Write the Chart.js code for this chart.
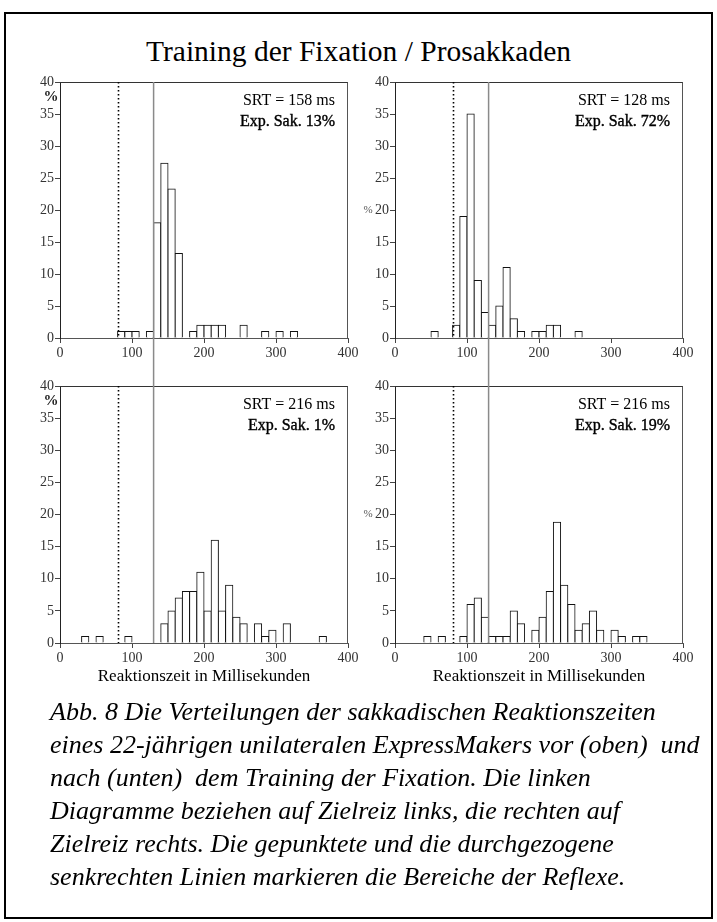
<!DOCTYPE html>
<html>
<head>
<meta charset="utf-8">
<script src="https://cdn.jsdelivr.net/npm/chart.js@4.4.1/dist/chart.umd.min.js"></script>
<style>
  html, body { margin: 0; padding: 0; background: #fff; }
  body { width: 717px; height: 922px; position: relative; overflow: hidden; font-family: "Liberation Serif", "Times New Roman", serif; }
  #frame { position: absolute; left: 4px; top: 12px; width: 709px; height: 907px; border: 2px solid #000; box-sizing: border-box; }
  #title { position: absolute; left: 0; width: 717px; top: 34px; text-align: center; font-size: 29.5px; line-height: 34px; color: #000; }
  #caption { position: absolute; left: 50px; top: 695px; width: 665px; font-size: 26px; line-height: 33px; font-style: italic; color: #000; white-space: nowrap; }
  canvas { position: absolute; }
</style>
</head>
<body>
<div id="frame"></div>
<div id="title">Training der Fixation / Prosakkaden</div>
<canvas id="tl" width="364" height="302" style="left:0px;top:60px"></canvas>
<canvas id="tr" width="367" height="302" style="left:350px;top:60px"></canvas>
<canvas id="bl" width="364" height="338" style="left:0px;top:362px"></canvas>
<canvas id="br" width="367" height="338" style="left:350px;top:362px"></canvas>
<div id="caption">Abb. 8 Die Verteilungen der sakkadischen Reaktionszeiten<br>eines 22-jährigen unilateralen ExpressMakers vor (oben)&nbsp; und<br>nach (unten)&nbsp; dem Training der Fixation. Die linken<br>Diagramme beziehen auf Zielreiz links, die rechten auf<br>Zielreiz rechts. Die gepunktete und die durchgezogene<br>senkrechten Linien markieren die Bereiche der Reflexe.</div>
<script>
// ---- data (bin start in ms, percentage) ----
const binWidth = 10;
const binStartsTL = [80, 90, 100, 120, 130, 140, 150, 160, 180, 190, 200, 210, 220, 250, 280, 300, 320];
const valuesTL    = [1, 1, 1, 1, 18, 27.3, 23.3, 13.2, 1, 2, 2, 2, 2, 2, 1, 1, 1];
const binStartsTR = [50, 80, 90, 100, 110, 120, 130, 140, 150, 160, 170, 190, 200, 210, 220, 250];
const valuesTR    = [1, 2, 19, 35, 9, 4, 2, 5, 11, 3, 1, 1, 1, 2, 2, 1];
const binStartsBL = [30, 50, 90, 140, 150, 160, 170, 180, 190, 200, 210, 220, 230, 240, 250, 270, 280, 290, 310, 360];
const valuesBL    = [1, 1, 1, 3, 5, 7, 8, 8, 11, 5, 16, 5, 9, 4, 3, 3, 1, 2, 3, 1];
const binStartsBR = [40, 60, 90, 100, 110, 120, 130, 140, 150, 160, 170, 190, 200, 210, 220, 230, 240, 250, 260, 270, 280, 300, 310, 330, 340];
const valuesBR    = [1, 1, 1, 6, 7, 4, 1, 1, 1, 5, 3, 2, 4, 8, 18.8, 9, 6, 2, 3, 5, 2, 2, 1, 1, 1];

const xTicks = [0, 100, 200, 300, 400];
const yTicks = [0, 5, 10, 15, 20, 25, 30, 35, 40];
const dottedX = 80;
const solidX = 130;
const srtLabels = ["SRT = 158 ms", "SRT = 128 ms", "SRT = 216 ms", "SRT = 216 ms"];
const expLabels = ["Exp. Sak. 13%", "Exp. Sak. 72%", "Exp. Sak. 1%", "Exp. Sak. 19%"];
const xTitle = "Reaktionszeit in Millisekunden";

const FONT = '"Liberation Serif", "Times New Roman", serif';
Chart.defaults.font.family = FONT;

function makeChart(id, starts, values, idx, cfg) {
  const panelPlugin = {
    id: 'panel' + idx,
    afterDraw(chart) {
      const ctx = chart.ctx;
      const a = chart.chartArea;
      const xs = chart.scales.x, ys = chart.scales.y;
      ctx.save();
      // frame top and right
      ctx.strokeStyle = '#333';
      ctx.lineWidth = 1;
      ctx.beginPath();
      const tY = Math.round(a.top) + 0.5, rX = Math.round(a.right) - 0.5;
      ctx.moveTo(a.left, tY); ctx.lineTo(rX + 0.5, tY);
      ctx.stroke();
      ctx.strokeStyle = '#555';
      ctx.beginPath();
      ctx.moveTo(rX, tY); ctx.lineTo(rX, a.bottom);
      ctx.stroke();
      // dotted line
      const dx = Math.round(xs.getPixelForValue(dottedX)) + 0.5;
      ctx.strokeStyle = '#000';
      ctx.lineWidth = 1.6;
      ctx.setLineDash([1.6, 2.4]);
      ctx.beginPath();
      ctx.moveTo(dx, a.top); ctx.lineTo(dx, a.bottom);
      ctx.stroke();
      ctx.setLineDash([]);
      // solid grey line spanning through the gap
      const sx = xs.getPixelForValue(solidX);
      ctx.strokeStyle = '#8a8a8a';
      ctx.lineWidth = 1.5;
      ctx.beginPath();
      if (cfg.top) { ctx.moveTo(sx, a.top); ctx.lineTo(sx, chart.height); }
      else { ctx.moveTo(sx, 0); ctx.lineTo(sx, a.bottom); }
      ctx.stroke();
      // annotations
      ctx.fillStyle = '#000';
      ctx.textAlign = 'right';
      ctx.textBaseline = 'middle';
      ctx.font = '16px ' + FONT;
      ctx.fillText(srtLabels[idx], a.right - 13, a.top + 19);
      ctx.fillText(expLabels[idx], a.right - 13, a.top + 40);
      ctx.strokeStyle = '#000';
      ctx.lineWidth = 0.4;
      ctx.strokeText(expLabels[idx], a.right - 13, a.top + 40);
      // percent label
      if (cfg.left) {
        ctx.font = 'bold 15px ' + FONT;
        ctx.textAlign = 'center';
        ctx.fillStyle = '#222';
        ctx.fillText('%', a.left - 9, a.top + 15);
      } else {
        ctx.font = '11px ' + FONT;
        ctx.textAlign = 'center';
        ctx.fillStyle = '#555';
        ctx.fillText('%', a.left - 27, ys.getPixelForValue(20));
      }
      ctx.restore();
    }
  };
  return new Chart(document.getElementById(id), {
    type: 'bar',
    data: {
      datasets: [{
        data: starts.map((s, i) => ({ x: s + binWidth / 2, y: values[i] })),
        backgroundColor: '#fff',
        borderColor: '#111',
        borderWidth: 1,
        borderSkipped: 'start',
        inflateAmount: 0.5,
        barPercentage: 1,
        categoryPercentage: 1
      }]
    },
    options: {
      responsive: false,
      animation: false,
      events: [],
      layout: { padding: { left: 0, right: cfg.padRight, top: cfg.padTop, bottom: 0 } },
      plugins: { legend: { display: false }, tooltip: { enabled: false } },
      scales: {
        x: {
          type: 'linear', min: 0, max: 400, offset: false,
          afterBuildTicks: (s) => { s.ticks = xTicks.map(v => ({ value: v })); },
          afterFit: (s) => { s.height = cfg.xHeight; },
          grid: { offset: false, drawOnChartArea: false, drawTicks: true, tickLength: 5, tickColor: '#444' },
          border: { display: true, color: '#555', width: 1 },
          ticks: { font: { size: 14 }, color: '#333', padding: 2, maxRotation: 0 },
          title: cfg.top ? { display: false } : {
            display: true, text: xTitle, color: '#000',
            font: { size: 17 }, padding: { top: 2, bottom: 13 }
          }
        },
        y: {
          type: 'linear', min: 0, max: 40,
          afterBuildTicks: (s) => { s.ticks = yTicks.map(v => ({ value: v })); },
          afterFit: (s) => { s.width = cfg.yWidth; },
          grid: { drawOnChartArea: false, drawTicks: true, tickLength: 5, tickColor: '#444' },
          border: { display: true, color: '#222', width: 1 },
          ticks: { font: { size: 14 }, color: '#333', padding: 1 }
        }
      }
    },
    plugins: [panelPlugin]
  });
}

makeChart('tl', binStartsTL, valuesTL, 0, { top: true, left: true, padTop: 22, padRight: 16, xHeight: 24, yWidth: 60 });
makeChart('tr', binStartsTR, valuesTR, 1, { top: true, left: false, padTop: 22, padRight: 34, xHeight: 24, yWidth: 45 });
makeChart('bl', binStartsBL, valuesBL, 2, { top: false, left: true, padTop: 24, padRight: 16, xHeight: 57, yWidth: 60 });
makeChart('br', binStartsBR, valuesBR, 3, { top: false, left: false, padTop: 24, padRight: 34, xHeight: 57, yWidth: 45 });
</script>
</body>
</html>
